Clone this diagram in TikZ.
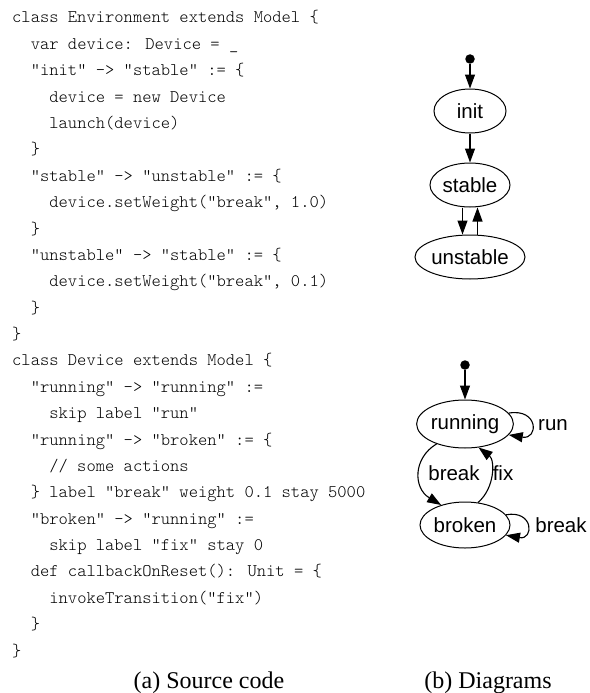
\documentclass[tikz,border=0pt]{standalone}
\usepackage{fontspec}
\setmainfont{Liberation Serif}
\newfontfamily\diafont{Liberation Sans}
\newfontfamily\codefont{lmmonolt10-regular.otf}
\usetikzlibrary{arrows.meta,shapes.geometric}
\tikzset{
  codeline/.style={anchor=base west, inner sep=0pt, font=\codefont\fontsize{17.7}{20}\selectfont},
  state/.style={draw, ellipse, line width=1pt, inner sep=0pt, font=\diafont\fontsize{20.5}{24}\selectfont},
  startdot/.style={circle, fill, inner sep=0pt, minimum size=9.5pt},
  edge/.style={draw, line width=1.1pt, -{Triangle[length=14pt,width=10pt]}},
  elabel/.style={font=\diafont\fontsize{20.5}{24}\selectfont, inner sep=0pt},
  caption/.style={font=\fontsize{24}{28}\selectfont, anchor=base, inner sep=0pt}
}
\newcommand\cl[3]{\node[codeline] (c#1) at ({12+18.59*#2},{-23-26.375*(#1-1)}) {#3};}
\begin{document}
\begin{tikzpicture}[x=1pt,y=1pt]
\useasboundingbox (0,0) rectangle (589,-693);
\cl{1}{0}{class Environment extends Model \{}
\cl{2}{1}{var device: Device = \_}
\cl{3}{1}{"init" -> "stable" := \{}
\cl{4}{2}{device = new Device}
\cl{5}{2}{launch(device)}
\cl{6}{1}{\}}
\cl{7}{1}{"stable" -> "unstable" := \{}
\cl{8}{2}{device.setWeight("break", 1.0)}
\cl{9}{1}{\}}
\cl{10}{1}{"unstable" -> "stable" := \{}
\cl{11}{2}{device.setWeight("break", 0.1)}
\cl{12}{1}{\}}
\cl{13}{0}{\}}
\cl{14}{0}{class Device extends Model \{}
\cl{15}{1}{"running" -> "running" :=}
\cl{16}{2}{skip label "run"}
\cl{17}{1}{"running" -> "broken" := \{}
\cl{18}{2}{// some actions}
\cl{19}{1}{\} label "break" weight 0.1 stay 5000}
\cl{20}{1}{"broken" -> "running" :=}
\cl{21}{2}{skip label "fix" stay 0}
\cl{22}{1}{def callbackOnReset(): Unit = \{}
\cl{23}{2}{invokeTransition("fix")}
\cl{24}{1}{\}}
\cl{25}{0}{\}}
% top diagram
\node[startdot] (s1) at (470,-59) {};
\node[state, minimum width=72pt, minimum height=44pt] (init) at (470,-111) {init};
\node[state, minimum width=80pt, minimum height=44pt] (stable) at (470,-185) {stable};
\node[state, minimum width=110pt, minimum height=44pt] (unstable) at (470,-257) {unstable};
\draw[edge] (s1) -- (init);
\draw[edge] (init) -- (stable);
\draw[edge] ([xshift=-7.5pt]stable.south) -- ([xshift=-7.5pt]unstable.north);
\draw[edge] ([xshift=7.5pt]unstable.north) -- ([xshift=7.5pt]stable.south);
% bottom diagram
\node[startdot] (s2) at (465,-365) {};
\node[state, minimum width=96pt, minimum height=48pt] (running) at (465,-424) {running};
\node[state, minimum width=90pt, minimum height=46pt] (broken) at (465,-525) {broken};
\draw[edge] (s2) -- (running);
\draw[edge] (running.14) .. controls +(30,5) and +(30,-5) .. (running.346);
\node[elabel] (runlbl) at (553,-425) {run};
\draw[edge] (running.215) .. controls (413,-458) and (413,-488) .. (broken.140);
\draw[edge] (broken.60) .. controls (495,-488) and (495,-460) .. (running.300);
\node[elabel] (brklbl) at (454,-473) {break};
\node[elabel] (fixlbl) at (503,-473) {fix};
\draw[edge] (broken.14) .. controls +(28,5) and +(28,-5) .. (broken.346);
\node[elabel] (brk2lbl) at (561,-525) {break};
% captions
\node[caption] (capa) at (209,-688) {(a) Source code};
\node[caption] (capb) at (488,-688) {(b) Diagrams};
\end{tikzpicture}
\end{document}
